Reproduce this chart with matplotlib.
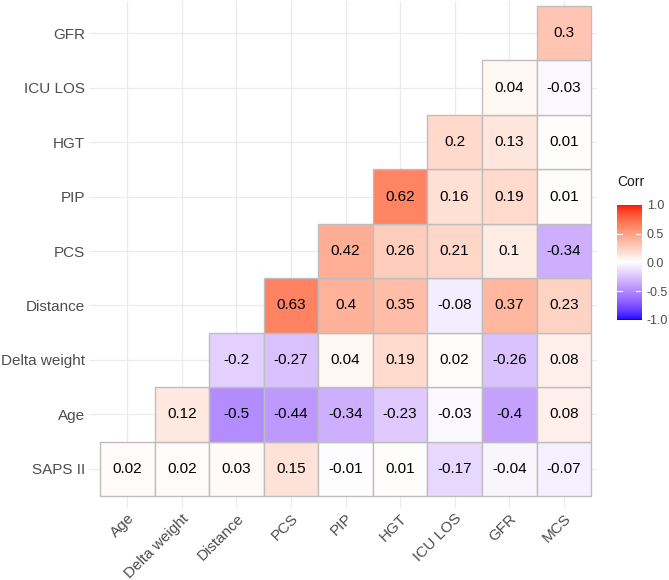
import matplotlib
matplotlib.use('Agg')
import matplotlib.pyplot as plt
import numpy as np
from matplotlib.colors import ListedColormap, Normalize
from matplotlib.patches import Rectangle

plt.rcParams['font.family'] = ['Liberation Sans', 'DejaVu Sans']

# column labels (x) and row labels (y, bottom to top)
x_labels = ['Age', 'Delta weight', 'Distance', 'PCS', 'PIP', 'HGT', 'ICU LOS', 'GFR', 'MCS']
y_labels = ['SAPS II', 'Age', 'Delta weight', 'Distance', 'PCS', 'PIP', 'HGT', 'ICU LOS', 'GFR']

# lower triangle correlations, one list per row (starting at the diagonal column)
row_saps = [0.02, 0.02, 0.03, 0.15, -0.01, 0.01, -0.17, -0.04, -0.07]
row_age = [0.12, -0.5, -0.44, -0.34, -0.23, -0.03, -0.4, 0.08]
row_delta = [-0.2, -0.27, 0.04, 0.19, 0.02, -0.26, 0.08]
row_distance = [0.63, 0.4, 0.35, -0.08, 0.37, 0.23]
row_pcs = [0.42, 0.26, 0.21, 0.1, -0.34]
row_pip = [0.62, 0.16, 0.19, 0.01]
row_hgt = [0.2, 0.13, 0.01]
row_icu = [0.04, -0.03]
row_gfr = [0.3]
rows = [row_saps, row_age, row_delta, row_distance, row_pcs, row_pip, row_hgt, row_icu, row_gfr]

n = len(x_labels)
corr = np.full((n, n), np.nan)
for i, r in enumerate(rows):
    corr[i, i:] = r


# blue-white-red gradient interpolated in Lab, like scale_fill_gradient2
def srgb_to_lab(c):
    c = np.asarray(c, float)
    lin = np.where(c <= 0.04045, c / 12.92, ((c + 0.055) / 1.055) ** 2.4)
    M = np.array([[0.4124, 0.3576, 0.1805], [0.2126, 0.7152, 0.0722], [0.0193, 0.1192, 0.9505]])
    xyz = M @ lin / np.array([0.95047, 1.0, 1.08883])
    f = np.where(xyz > 0.008856, np.cbrt(xyz), 7.787 * xyz + 16 / 116)
    return np.array([116 * f[1] - 16, 500 * (f[0] - f[1]), 200 * (f[1] - f[2])])


def lab_to_srgb(lab):
    L, a, b = lab
    fy = (L + 16) / 116
    fx = fy + a / 500
    fz = fy - b / 200
    f = np.array([fx, fy, fz])
    xyz = np.where(f ** 3 > 0.008856, f ** 3, (f - 16 / 116) / 7.787) * np.array([0.95047, 1.0, 1.08883])
    Minv = np.array([[3.2406, -1.5372, -0.4986], [-0.9689, 1.8758, 0.0415], [0.0557, -0.2040, 1.0570]])
    lin = np.clip(Minv @ xyz, 0, 1)
    c = np.where(lin <= 0.0031308, 12.92 * lin, 1.055 * lin ** (1 / 2.4) - 0.055)
    return np.clip(c, 0, 1)


blue, white, red = srgb_to_lab([0, 0, 1]), srgb_to_lab([1, 1, 1]), srgb_to_lab([1, 0, 0])
cols = []
for t in np.linspace(-1, 1, 256):
    if t < 0:
        lab = white + (blue - white) * (-t)
    else:
        lab = white + (red - white) * t
    cols.append(lab_to_srgb(lab))
cmap = ListedColormap(cols)
norm = Normalize(-1, 1)

fig = plt.figure(figsize=(6.69, 5.8), dpi=100)
ax = fig.add_axes([0.1413, 0.1353, 0.7504, 0.8638])

for i in range(n):
    for j in range(n):
        v = corr[i, j]
        if np.isnan(v):
            continue
        ax.add_patch(Rectangle((j - 0.5, i - 0.5), 1, 1, facecolor=cmap(norm(v)),
                               edgecolor='#BEBEBE', linewidth=1, zorder=2))
        ax.text(j, i, f'{v:g}', ha='center', va='center', fontsize=11, color='black', zorder=3)

ax.set_xlim(-0.6, n - 0.4)
ax.set_ylim(-0.6, n - 0.4)
ax.set_xticks(range(n))
ax.set_yticks(range(n))
ax.set_xticklabels(x_labels, rotation=45, ha='right', va='top', rotation_mode='anchor')
ax.set_yticklabels(y_labels)
ax.tick_params(axis='both', colors='#EBEBEB', labelcolor='#4D4D4D', labelsize=11, length=4, width=0.8, pad=3)
ax.grid(True, color='#EBEBEB', linewidth=0.9, zorder=0)
ax.set_axisbelow(True)
for s in ax.spines.values():
    s.set_visible(False)

# colour bar
cax = fig.add_axes([0.9223, 0.4483, 0.0359, 0.1983])
grad = np.linspace(-1, 1, 256).reshape(-1, 1)
cax.imshow(grad, cmap=cmap, vmin=-1, vmax=1, aspect='auto', origin='lower', extent=[0, 1, -1, 1])
cax.set_xticks([])
cax.yaxis.tick_right()
cax.set_yticks([-1, -0.5, 0, 0.5, 1])
cax.set_yticklabels(['-1.0', '-0.5', '0.0', '0.5', '1.0'])
cax.tick_params(axis='y', length=0, labelsize=9, labelcolor='#4D4D4D', pad=4)
for v in [-0.5, 0, 0.5]:
    cax.plot([0, 0.2], [v, v], color='white', lw=0.8)
    cax.plot([0.8, 1], [v, v], color='white', lw=0.8)
cax.set_xlim(0, 1)
cax.set_ylim(-1, 1)
for s in cax.spines.values():
    s.set_visible(False)
fig.text(0.9223, 0.675, 'Corr', fontsize=10, color='#1A1A1A', ha='left', va='bottom')

fig.savefig('out.png', dpi=100)
